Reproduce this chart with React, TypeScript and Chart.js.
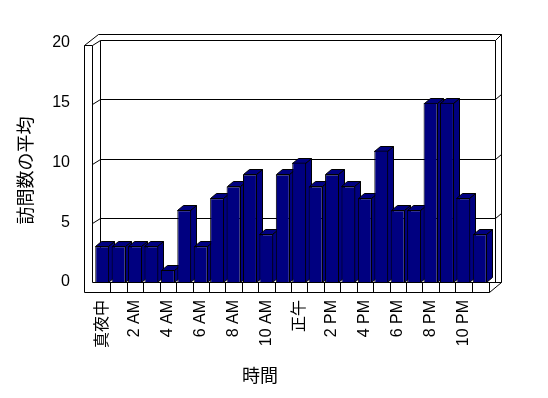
import React, { useEffect, useRef } from 'react';
import { Chart, registerables } from 'chart.js';

Chart.register(...registerables);

const hours = [
  '真夜中', '1 AM', '2 AM', '3 AM', '4 AM', '5 AM', '6 AM', '7 AM', '8 AM', '9 AM', '10 AM', '11 AM',
  '正午', '1 PM', '2 PM', '3 PM', '4 PM', '5 PM', '6 PM', '7 PM', '8 PM', '9 PM', '10 PM', '11 PM',
];
const visits = [3, 3, 3, 3, 1, 6, 3, 7, 8, 9, 4, 9, 10, 8, 9, 8, 7, 11, 6, 6, 15, 15, 7, 4];
const yTicks = [0, 5, 10, 15, 20];
const xTitle = '時間';
const yTitle = '訪問数の平均';

const NAVY = '#000080';
const FONT = '"Liberation Sans", "Noto Sans CJK JP", sans-serif';
const DX = 6;
const DY = 5;

const frame3d = {
  id: 'frame3d',
  beforeDatasetsDraw(chart: any) {
    const { ctx, chartArea: ca, scales } = chart;
    const ys = scales.y;
    const xs = scales.x;
    const L = Math.round(ca.left);
    const R = Math.round(ca.right);
    const B = Math.round(ys.getPixelForValue(0));
    const T = Math.round(ys.getPixelForValue(yTicks[yTicks.length - 1]));
    const p = (v: number) => Math.round(v) + 0.5;
    ctx.save();
    ctx.strokeStyle = '#000';
    ctx.lineWidth = 1;
    const line = (pts: number[]) => {
      ctx.beginPath();
      ctx.moveTo(p(pts[0]), p(pts[1]));
      for (let i = 2; i < pts.length; i += 2) ctx.lineTo(p(pts[i]), p(pts[i + 1]));
      ctx.stroke();
    };
    // frame / walls / floor
    line([L - 10, T + 2, L - 10, B + 10, R + 1, B + 10, R + 1, B]);
    line([L - 2, T + 2, L - 2, B, R + 13, B]);
    line([L - 10, T + 2, L - 2, T + 2]);
    line([L - 10, T + 2, L + 4, T - 9, R + 13, T - 9, R + 13, B]);
    line([L - 2, T + 2, L + 6, T - 3, R + 7, T - 3, R + 13, T - 9]);
    line([L + 6, T - 3, L + 6, B]);
    line([R + 7, T - 3, R + 7, B]);
    line([R + 1, B + 10, R + 13, B]);
    // gridlines on the back wall
    yTicks.forEach((v) => {
      if (v <= yTicks[0] || v >= yTicks[yTicks.length - 1]) return;
      const gy = ys.getPixelForValue(v);
      line([L - 2, gy + 1, L + 6, gy - 4, R + 7, gy - 4, R + 13, gy - 9]);
    });
    // floor category dividers
    for (let k = 1; k < hours.length; k++) {
      const bx = (xs.getPixelForValue(k - 1) + xs.getPixelForValue(k)) / 2;
      line([bx, B, bx, B + 10]);
    }
    // bar sides and tops
    const meta = chart.getDatasetMeta(0);
    ctx.fillStyle = NAVY;
    meta.data.forEach((el: any) => {
      const { x, y, base, width } = el.getProps(['x', 'y', 'base', 'width'], true);
      const xl = p(x - width / 2);
      const xr = p(x + width / 2) - 1;
      const top = p(y);
      const bot = p(base);
      ctx.beginPath();
      ctx.moveTo(xr, top);
      ctx.lineTo(xr + DX, top - DY);
      ctx.lineTo(xr + DX, bot - DY);
      ctx.lineTo(xr, bot);
      ctx.closePath();
      ctx.fill();
      ctx.stroke();
      ctx.beginPath();
      ctx.moveTo(xl, top);
      ctx.lineTo(xl + DX, top - DY);
      ctx.lineTo(xr + DX, top - DY);
      ctx.lineTo(xr, top);
      ctx.closePath();
      ctx.fill();
      ctx.stroke();
    });
    ctx.restore();
  },
  afterDraw(chart: any) {
    const { ctx, chartArea: ca, scales } = chart;
    const ys = scales.y;
    const B = ys.getPixelForValue(0);
    const T = ys.getPixelForValue(yTicks[yTicks.length - 1]);
    ctx.save();
    ctx.fillStyle = '#000';
    ctx.textAlign = 'center';
    ctx.textBaseline = 'middle';
    ctx.font = '18px ' + FONT;
    ctx.fillText(xTitle, (ca.left + ca.right) / 2 - 31, B + 95);
    ctx.translate(27, (T + B) / 2 + 8);
    ctx.rotate(-Math.PI / 2);
    ctx.fillText(yTitle, 0, 0);
    ctx.restore();
  },
};

export default function App() {
  const ref = useRef<HTMLCanvasElement | null>(null);
  useEffect(() => {
    if (!ref.current) return;
    const chart = new Chart(ref.current, {
      type: 'bar',
      data: {
        labels: hours,
        datasets: [
          {
            data: visits,
            backgroundColor: NAVY,
            borderColor: '#000',
            borderWidth: 1,
            barPercentage: 0.85,
            categoryPercentage: 1,
          },
        ],
      },
      options: {
        animation: false,
        responsive: true,
        maintainAspectRatio: false,
        layout: { padding: { left: 0, right: 60, top: 43, bottom: 0 } },
        plugins: { legend: { display: false }, tooltip: { enabled: false }, title: { display: false } },
        scales: {
          x: {
            grid: { display: false, drawTicks: false },
            border: { display: false },
            ticks: {
              autoSkip: false,
              maxRotation: 90,
              minRotation: 90,
              padding: 18,
              color: '#000',
              font: { family: FONT, size: 16 },
              callback: (_v: any, i: number) => (i % 2 === 0 ? hours[i] : ''),
            },
            afterFit: (s: any) => {
              s.height = 116;
            },
          },
          y: {
            min: 0,
            max: 20,
            grid: { display: false, drawTicks: false },
            border: { display: false },
            ticks: {
              stepSize: 5,
              padding: 24,
              color: '#000',
              font: { family: FONT, size: 16 },
            },
            afterFit: (s: any) => {
              s.width = 94;
            },
          },
        },
      },
      plugins: [frame3d],
    });
    return () => chart.destroy();
  }, []);
  return (
    <div style={{ position: 'fixed', left: 0, top: 0, width: 548, height: 398, background: '#fff' }}>
      <canvas ref={ref} />
    </div>
  );
}
